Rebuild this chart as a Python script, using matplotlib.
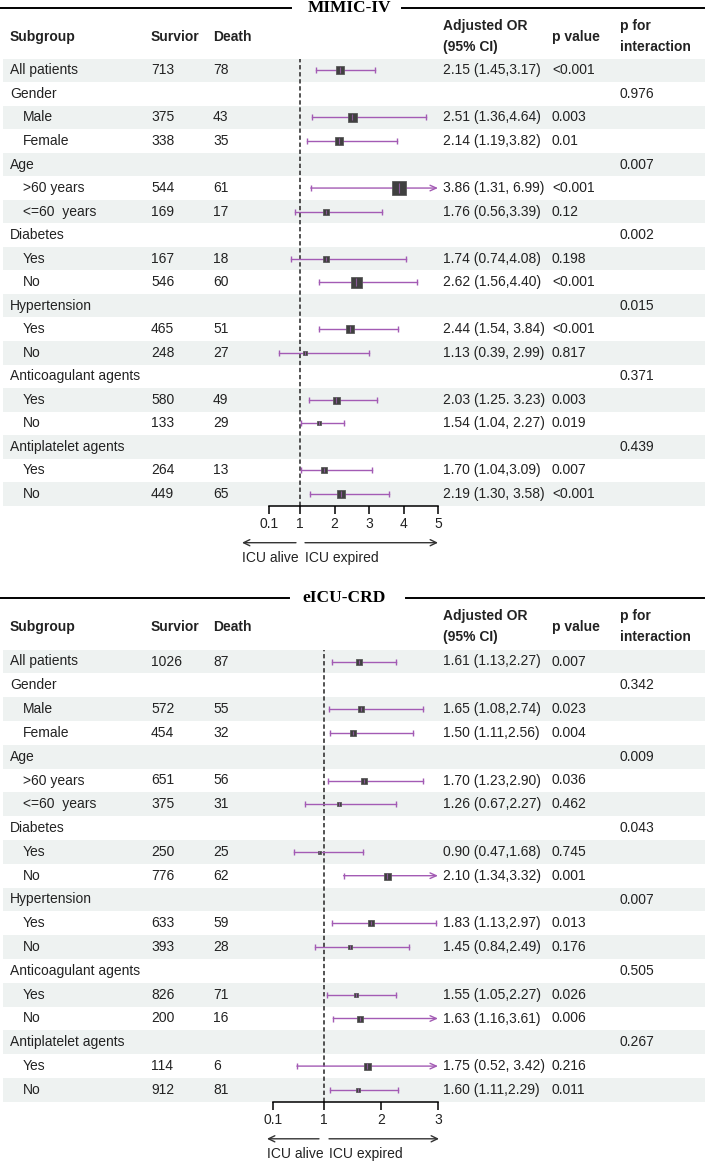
import matplotlib
matplotlib.use("Agg")
import matplotlib.pyplot as plt
from matplotlib import font_manager as fm
from matplotlib.patches import Rectangle

# ---------------- data ----------------
labels = ["All patients", "Gender", "Male", "Female", "Age", ">60 years", "<=60  years",
          "Diabetes", "Yes", "No", "Hypertension", "Yes", "No",
          "Anticoagulant agents", "Yes", "No", "Antiplatelet agents", "Yes", "No"]
indent = [0, 0, 1, 1, 0, 1, 1, 0, 1, 1, 0, 1, 1, 0, 1, 1, 0, 1, 1]

# MIMIC-IV
m_surv = ["713", "", "375", "338", "", "544", "169", "", "167", "546", "", "465", "248", "", "580", "133", "", "264", "449"]
m_death = ["78", "", "43", "35", "", "61", "17", "", "18", "60", "", "51", "27", "", "49", "29", "", "13", "65"]
m_or = [2.15, None, 2.51, 2.14, None, 3.86, 1.76, None, 1.74, 2.62, None, 2.44, 1.13, None, 2.03, 1.54, None, 1.70, 2.19]
m_lo = [1.45, None, 1.36, 1.19, None, 1.31, 0.86, None, 0.74, 1.56, None, 1.54, 0.39, None, 1.25, 1.02, None, 1.02, 1.30]
m_hi = [3.17, None, 4.64, 3.82, None, 6.99, 3.39, None, 4.08, 4.40, None, 3.84, 2.99, None, 3.23, 2.27, None, 3.09, 3.58]
m_box = [7.5, None, 9, 8, None, 14, 6, None, 6, 11, None, 8, 4, None, 7, 5, None, 6, 8]
m_ci_txt = ["2.15 (1.45,3.17)", "", "2.51 (1.36,4.64)", "2.14 (1.19,3.82)", "", "3.86 (1.31, 6.99)",
            "1.76 (0.56,3.39)", "", "1.74 (0.74,4.08)", "2.62 (1.56,4.40)", "", "2.44 (1.54, 3.84)",
            "1.13 (0.39, 2.99)", "", "2.03 (1.25. 3.23)", "1.54 (1.04, 2.27)", "", "1.70 (1.04,3.09)",
            "2.19 (1.30, 3.58)"]
m_p = ["<0.001", "", "0.003", "0.01", "", "<0.001", "0.12", "", "0.198", "<0.001", "", "<0.001",
       "0.817", "", "0.003", "0.019", "", "0.007", "<0.001"]
m_pint = ["", "0.976", "", "", "0.007", "", "", "0.002", "", "", "0.015", "", "", "0.371", "", "", "0.439", "", ""]
m_ticks = [0.1, 1, 2, 3, 4, 5]

# eICU-CRD
e_surv = ["1026", "", "572", "454", "", "651", "375", "", "250", "776", "", "633", "393", "", "826", "200", "", "114", "912"]
e_death = ["87", "", "55", "32", "", "56", "31", "", "25", "62", "", "59", "28", "", "71", "16", "", "6", "81"]
e_or = [1.61, None, 1.65, 1.50, None, 1.70, 1.26, None, 0.90, 2.10, None, 1.83, 1.45, None, 1.55, 1.63, None, 1.75, 1.60]
e_lo = [1.13, None, 1.08, 1.11, None, 1.06, 0.67, None, 0.47, 1.34, None, 1.13, 0.84, None, 1.05, 1.16, None, 0.52, 1.11]
e_hi = [2.27, None, 2.74, 2.56, None, 2.73, 2.27, None, 1.68, 3.32, None, 2.97, 2.49, None, 2.27, 3.61, None, 3.42, 2.29]
e_box = [6, None, 6, 6, None, 6, 4, None, 3, 7, None, 6, 5, None, 5, 6, None, 7, 5]
e_ci_txt = ["1.61 (1.13,2.27)", "", "1.65 (1.08,2.74)", "1.50 (1.11,2.56)", "", "1.70 (1.23,2.90)",
            "1.26 (0.67,2.27)", "", "0.90 (0.47,1.68)", "2.10 (1.34,3.32)", "", "1.83 (1.13,2.97)",
            "1.45 (0.84,2.49)", "", "1.55 (1.05,2.27)", "1.63 (1.16,3.61)", "", "1.75 (0.52, 3.42)",
            "1.60 (1.11,2.29)"]
e_p = ["0.007", "", "0.023", "0.004", "", "0.036", "0.462", "", "0.745", "0.001", "", "0.013",
       "0.176", "", "0.026", "0.006", "", "0.216", "0.011"]
e_pint = ["", "0.342", "", "", "0.009", "", "", "0.043", "", "", "0.007", "", "", "0.505", "", "", "0.267", "", ""]
e_ticks = [0.1, 1, 2, 3]

# ---------------- style ----------------
names = {f.name for f in fm.fontManager.ttflist}
if "Liberation Sans Narrow" in names:
    FONT, FS = "Liberation Sans Narrow", 11.5
else:
    FONT, FS = "Liberation Sans", 10
SERIF = "Liberation Serif" if "Liberation Serif" in names else "DejaVu Serif"
plt.rcParams["font.family"] = [FONT, "DejaVu Sans"]

TXT = "#222222"
BAND = "#EEF2F1"
PURPLE = "#A35BB4"
BOXC = "#404040"

W, H = 708, 1163
fig = plt.figure(figsize=(W / 100, H / 100), dpi=100)
bg = fig.add_axes([0, 0, 1, 1], zorder=0)
bg.set_xlim(0, W)
bg.set_ylim(H, 0)
bg.axis("off")

X_SUB, X_SUB_IND, X_SURV, X_DEATH, X_OR, X_P, X_PINT = 10, 23, 151, 213, 443, 552, 620


def panel(title, title_y, title_cx, line_l, line_r, row0, step,
          px_l, px_r, xmax, ticks, surv, death, est, lo, hi, box, ci_txt, pv, pint,
          arr_l, arr_r):
    # title with rules
    bg.text(title_cx, title_y, title, ha="center", va="center", fontsize=12.5,
            fontweight="bold", family=SERIF, color="black")
    bg.plot([0, line_l], [title_y, title_y], color="black", lw=1.4)
    bg.plot([line_r, 704], [title_y, title_y], color="black", lw=1.4)
    # headers
    hy = title_y + 29
    hb = dict(fontsize=FS, fontweight="bold", color=TXT, va="center", ha="left")
    bg.text(X_SUB, hy, "Subgroup", **hb)
    bg.text(X_SURV, hy, "Survior", **hb)
    bg.text(X_DEATH, hy, "Death", **hb)
    bg.text(X_OR, hy - 11, "Adjusted OR", **hb)
    bg.text(X_OR, hy + 10, "(95% CI)", **hb)
    bg.text(X_P, hy, "p value", **hb)
    bg.text(X_PINT, hy - 11, "p for", **hb)
    bg.text(X_PINT, hy + 10, "interaction", **hb)

    n = len(labels)
    top = row0 - step / 2
    tk = dict(fontsize=FS, color=TXT, va="center", ha="left")
    for i in range(n):
        y = row0 + i * step
        if i % 2 == 0:
            bg.add_patch(Rectangle((3, y - step / 2), 702, step, facecolor=BAND,
                                   edgecolor="none", zorder=0))
        bg.text(X_SUB_IND if indent[i] else X_SUB, y, labels[i], **tk)
        bg.text(X_SURV, y, surv[i], **tk)
        bg.text(X_DEATH, y, death[i], **tk)
        bg.text(X_OR, y, ci_txt[i], **tk)
        bg.text(X_P, y, pv[i], **tk)
        bg.text(X_PINT, y, pint[i], **tk)

    # forest axes
    ax = fig.add_axes([px_l / W, 1 - (top + n * step) / H, (px_r - px_l) / W, n * step / H],
                      zorder=1)
    ax.patch.set_alpha(0)
    ax.set_xlim(0.1, xmax)
    ax.set_ylim(n - 0.5, -0.5)
    for s in ("top", "left", "right"):
        ax.spines[s].set_visible(False)
    ax.spines["bottom"].set_linewidth(1.1)
    ax.set_yticks([])
    ax.set_xticks(ticks)
    ax.set_xticklabels([("%g" % t) for t in ticks])
    ax.tick_params(axis="x", direction="out", length=6, width=1.1, pad=2,
                   labelsize=FS, labelcolor=TXT)
    ax.axvline(1, color="#444444", lw=1.3, ls=(0, (2.4, 1.5)), zorder=1)

    for i in range(n):
        if est[i] is None:
            continue
        if hi[i] > xmax:
            ax.annotate("", xy=(xmax, i), xytext=(lo[i], i),
                        arrowprops=dict(arrowstyle="->,head_length=0.45,head_width=0.2",
                                        color=PURPLE, lw=1.0, shrinkA=0, shrinkB=0),
                        zorder=2)
            ax.plot([lo[i]], [i], marker="|", ms=5, mew=1.0, color=PURPLE, zorder=2)
        else:
            ax.plot([lo[i], hi[i]], [i, i], color=PURPLE, lw=1.0, zorder=2)
            ax.plot([lo[i], hi[i]], [i, i], ls="none", marker="|", ms=5, mew=1.0,
                    color=PURPLE, zorder=2)
        ax.plot([est[i]], [i], marker="s", ms=box[i] * 0.72, color=BOXC, mec="#5a5a5a",
                mew=0.6, zorder=3, clip_on=False)
        ax.plot([est[i]], [i], marker="|", ms=box[i] * 0.55, mew=0.8, color="#8a5a98",
                zorder=4, clip_on=False)

    # direction arrows below axis
    axis_y = top + n * step
    ay = axis_y + 37
    bg.annotate("", xy=(arr_l[0], ay), xytext=(arr_l[1], ay),
                arrowprops=dict(arrowstyle="->,head_length=0.45,head_width=0.22",
                                color="#333333", lw=1.0, shrinkA=0, shrinkB=0))
    bg.annotate("", xy=(arr_r[1], ay), xytext=(arr_r[0], ay),
                arrowprops=dict(arrowstyle="->,head_length=0.45,head_width=0.22",
                                color="#333333", lw=1.0, shrinkA=0, shrinkB=0))
    bg.text(arr_l[0], ay + 15, "ICU alive", fontsize=FS, color=TXT, ha="left", va="center")
    bg.text(arr_r[0], ay + 15, "ICU expired", fontsize=FS, color=TXT, ha="left", va="center")


panel("MIMIC-IV", 8, 349, 291, 402, 70.4, 23.53, 269, 438, 5, m_ticks,
      m_surv, m_death, m_or, m_lo, m_hi, m_box, m_ci_txt, m_p, m_pint,
      (242, 296), (305, 438))
panel("eICU-CRD", 598, 344, 289, 406, 661.5, 23.8, 273, 438, 3, e_ticks,
      e_surv, e_death, e_or, e_lo, e_hi, e_box, e_ci_txt, e_p, e_pint,
      (267, 319), (329, 439))

fig.savefig("out.png", dpi=100)
